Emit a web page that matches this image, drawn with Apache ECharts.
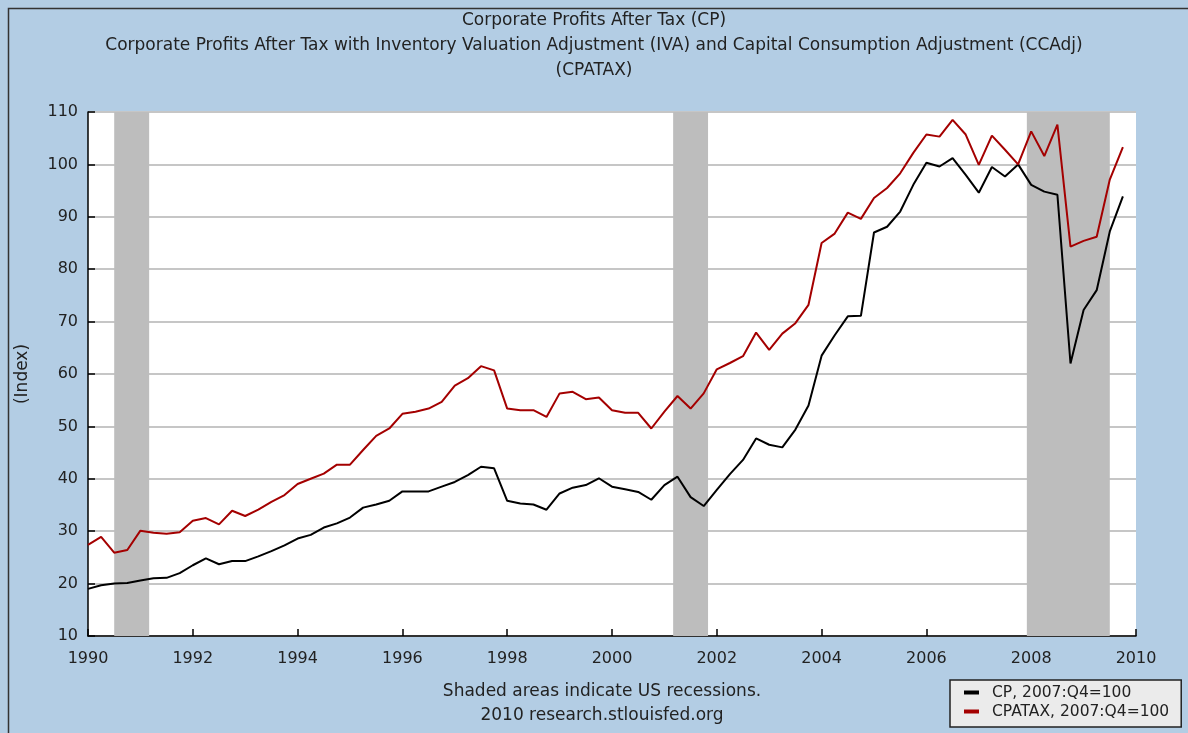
<!DOCTYPE html>
<html>
<head>
<meta charset="utf-8">
<script src="https://cdn.jsdelivr.net/npm/echarts@6/dist/echarts.min.js"></script>
<style>
html,body{margin:0;padding:0;background:#b3cde4;}
#chart{width:1188px;height:733px;}
</style>
</head>
<body>
<div id="chart"></div>
<script>
// Quarterly observations, 1990:Q1 .. 2009:Q4
const startYear = 1990;
const cpValues = [
  19.0, 19.7, 20.0, 20.1, 20.6, 21.0, 21.1, 22.0, 23.5, 24.8,
  23.7, 24.3, 24.3, 25.2, 26.2, 27.3, 28.6, 29.3, 30.7, 31.5,
  32.6, 34.5, 35.1, 35.8, 37.6, 37.6, 37.6, 38.5, 39.4, 40.7,
  42.3, 42.0, 35.8, 35.3, 35.1, 34.1, 37.2, 38.3, 38.8, 40.1,
  38.5, 38.0, 37.5, 36.0, 38.8, 40.4, 36.5, 34.8, 37.9, 40.9,
  43.6, 47.7, 46.5, 46.0, 49.4, 54.0, 63.5, 67.4, 71.0, 71.1,
  87.0, 88.1, 91.0, 96.1, 100.3, 99.6, 101.2, 98.0, 94.6, 99.5,
  97.7, 100.0, 96.1, 94.8, 94.2, 62.0, 72.2, 76.0, 87.2, 93.9
];
const cpataxValues = [
  27.4, 28.9, 25.9, 26.4, 30.1, 29.7, 29.5, 29.8, 32.0, 32.5,
  31.3, 33.9, 32.9, 34.1, 35.6, 36.9, 39.0, 40.0, 41.0, 42.7,
  42.7, 45.5, 48.2, 49.6, 52.4, 52.8, 53.4, 54.7, 57.8, 59.2,
  61.5, 60.7, 53.4, 53.1, 53.1, 51.8, 56.3, 56.6, 55.2, 55.5,
  53.1, 52.6, 52.6, 49.6, 52.8, 55.8, 53.4, 56.3, 60.9, 62.1,
  63.4, 67.9, 64.6, 67.7, 69.7, 73.2, 85.0, 86.8, 90.8, 89.6,
  93.6, 95.5, 98.3, 102.2, 105.7, 105.3, 108.5, 105.7, 99.9, 105.5,
  102.8, 100.0, 106.3, 101.6, 107.6, 84.3, 85.4, 86.2, 97.1, 103.3
];
// Recession periods (decimal years)
const recessions = [
  [1990.5, 1991.167],
  [2001.167, 2001.833],
  [2007.917, 2009.5]
];
const seriesNames = ['CP, 2007:Q4=100', 'CPATAX, 2007:Q4=100'];
const titleLines = [
  'Corporate Profits After Tax (CP)',
  'Corporate Profits After Tax with Inventory Valuation Adjustment (IVA) and Capital Consumption Adjustment (CCAdj)',
  '(CPATAX)'
];
const footerLines = ['Shaded areas indicate US recessions.', '2010 research.stlouisfed.org'];
const yAxisName = '(Index)';

function toPairs(vals) {
  return vals.map((v, i) => [startYear + i * 0.25, v]);
}

const FONT = 'DejaVu Sans';
const chart = echarts.init(document.getElementById('chart'), null, {renderer: 'canvas'});
chart.setOption({
  backgroundColor: '#b3cde4',
  animation: false,
  textStyle: {fontFamily: FONT},
  title: {
    text: titleLines.join('\n'),
    left: 'center',
    top: 3,
    textStyle: {fontFamily: FONT, fontSize: 17, fontWeight: 'normal', color: '#222', lineHeight: 25}
  },
  graphic: [
    {type: 'rect', left: 6, top: 6, shape: {width: 1300, height: 800}, style: {fill: 'none', stroke: '#333', lineWidth: 1.5}, silent: true, z: 100},
    {type: 'text', x: 602, y: 680, style: {text: footerLines.join('\n'), fontFamily: FONT, fontSize: 17, fill: '#222', lineHeight: 24, align: 'center', verticalAlign: 'top'}, silent: true}
  ],
  legend: {
    data: seriesNames,
    orient: 'vertical',
    left: 950,
    top: 680,
    padding: [3, 12, 6, 14],
    itemGap: 0,
    itemWidth: 15,
    itemHeight: 4,
    icon: 'rect',
    backgroundColor: '#ebebeb',
    borderColor: '#222',
    borderWidth: 1.5,
    borderRadius: 0,
    textStyle: {fontFamily: FONT, fontSize: 15.5, color: '#222', lineHeight: 19, padding: [0, 0, 0, 8]}
  },
  grid: {left: 88, right: 52, top: 112, bottom: 97, show: true, backgroundColor: '#ffffff', borderWidth: 0},
  xAxis: {
    type: 'value',
    min: 1990,
    max: 2010,
    interval: 2,
    axisLine: {show: true, onZero: false, lineStyle: {color: '#000', width: 1.5}},
    axisTick: {show: true, inside: true, length: 7, lineStyle: {color: '#000', width: 1.5}},
    axisLabel: {fontFamily: FONT, fontSize: 16, color: '#222', margin: 15, formatter: v => String(v)},
    splitLine: {show: false}
  },
  yAxis: {
    type: 'value',
    min: 10,
    max: 110,
    interval: 10,
    name: yAxisName,
    nameLocation: 'middle',
    nameGap: 57,
    nameRotate: 90,
    nameTextStyle: {fontFamily: FONT, fontSize: 17, color: '#222'},
    axisLine: {show: true, lineStyle: {color: '#000', width: 1.5}},
    axisTick: {show: true, inside: true, length: 7, lineStyle: {color: '#000', width: 1.5}},
    axisLabel: {fontFamily: FONT, fontSize: 16, color: '#222', margin: 10},
    splitLine: {show: true, lineStyle: {color: '#c6c6c6', width: 2}}
  },
  series: [
    {
      name: '__recessions',
      type: 'line',
      data: [],
      silent: true,
      z: 1,
      markArea: {
        silent: true,
        itemStyle: {color: '#bdbdbd', opacity: 1},
        data: recessions.map(r => [{xAxis: r[0]}, {xAxis: r[1]}])
      }
    },
    {
      name: seriesNames[0],
      type: 'line',
      data: toPairs(cpValues),
      showSymbol: false,
      symbol: 'none',
      z: 3,
      color: '#000000',
      lineStyle: {color: '#000000', width: 2}
    },
    {
      name: seriesNames[1],
      type: 'line',
      data: toPairs(cpataxValues),
      showSymbol: false,
      symbol: 'none',
      z: 4,
      color: '#a40000',
      lineStyle: {color: '#a40000', width: 2}
    }
  ]
});
</script>
</body>
</html>
